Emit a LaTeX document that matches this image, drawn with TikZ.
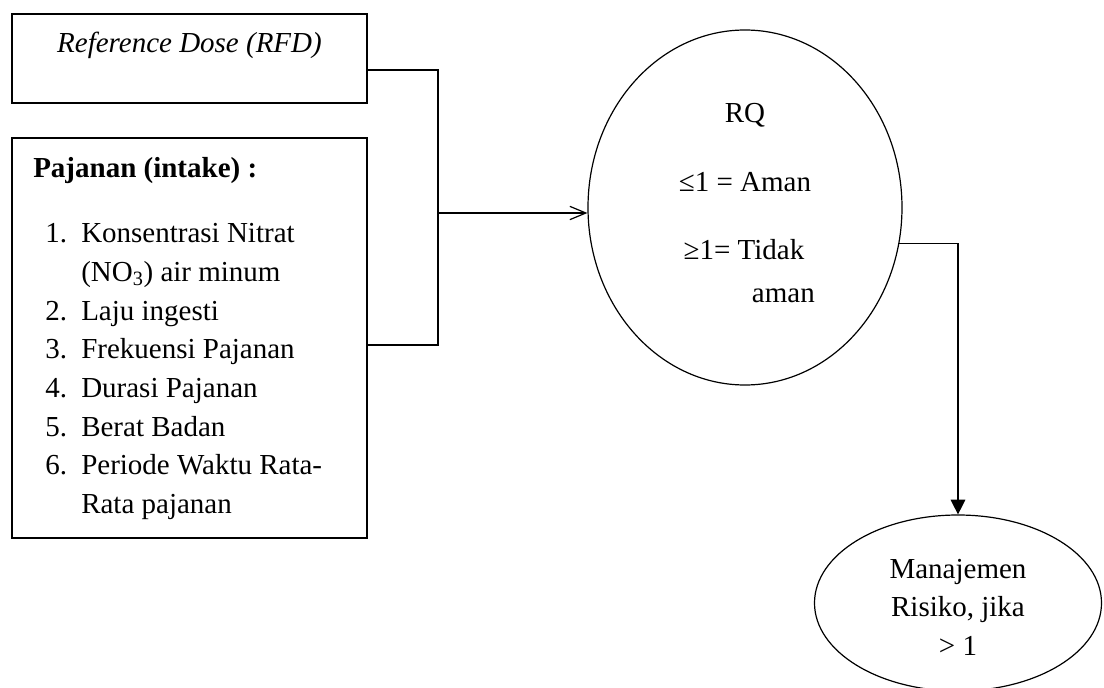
\documentclass[tikz,border=0pt]{standalone}
\usepackage{fontspec}
\setmainfont{Liberation Serif}
\usetikzlibrary{shapes.geometric, arrows.meta, positioning, calc}
\tikzset{
  box/.style={rectangle, draw, line width=1.2pt, minimum width=266.25pt, inner sep=0pt},
  oval/.style={ellipse, draw, line width=0.9pt, inner sep=0pt},
  txt/.style={anchor=base, inner sep=0pt, font=\fontsize{21.75}{28.9}\selectfont},
  line/.style={line width=0.9pt},
  openarrow/.style={-{Straight Barb[length=12pt, width=10pt]}, line width=0.9pt},
  fillarrow/.style={-{Triangle[length=11pt, width=11pt]}, line width=0.9pt}
}
\begin{document}
\begin{tikzpicture}[x=0.75pt, y=-0.75pt]
  \useasboundingbox (0,0) rectangle (1104,688);

  % Reference dose box
  \node[box, minimum height=66.75pt] (rfd) at (189.5,58.5) {};
  \node[txt] (rfdlabel) at (189.5,53) {\itshape Reference Dose (RFD)};

  % Intake box
  \node[box, minimum height=300pt] (intake) at (189.5,338) {};
  \node[txt, anchor=base west] (intakehead) at (33,178) {\bfseries Pajanan (intake) :};
  \foreach \num/\entry [count=\i from 0] in {1./Konsentrasi Nitrat, /{(NO\textsubscript{3}) air minum}, 2./Laju ingesti, 3./Frekuensi Pajanan, 4./Durasi Pajanan, 5./Berat Badan, 6./Periode Waktu Rata-, /Rata pajanan}{
    \node[txt, anchor=base west] (num\i) at (45,243+38.6*\i) {\num};
    \node[txt, anchor=base west] (entry\i) at (81,243+38.6*\i) {\entry};
  }

  % Risk quotient
  \node[oval, minimum width=235.5pt, minimum height=266.25pt] (rq) at (745,207.5) {};
  \node[txt] (rqtitle) at (745,123) {RQ};
  \node[txt] (rqsafe) at (745,192) {≤1 = Aman};
  \node[txt] (rqrisk) at (744,260) {≥1= Tidak};
  \node[txt, anchor=base east] (rqriskb) at (815,302) {aman};

  % Risk management
  \node[oval, minimum width=215.25pt, minimum height=132pt] (mgmt) at (958,603) {};
  \node[txt, anchor=center, align=center] (mgmtlabel) at (958,607) {Manajemen\\Risiko, jika\\> 1};

  % Connectors
  \coordinate (join) at (438,213);
  \draw[line] ([yshift=-8.6pt]rfd.east) -| (join);
  \draw[line] ([yshift=-5.25pt]intake.east) -| (join);
  \draw[openarrow] (join) -- (join -| rq.west);
  \draw[fillarrow] (rq.-13) -| (mgmt.north);
\end{tikzpicture}
\end{document}
